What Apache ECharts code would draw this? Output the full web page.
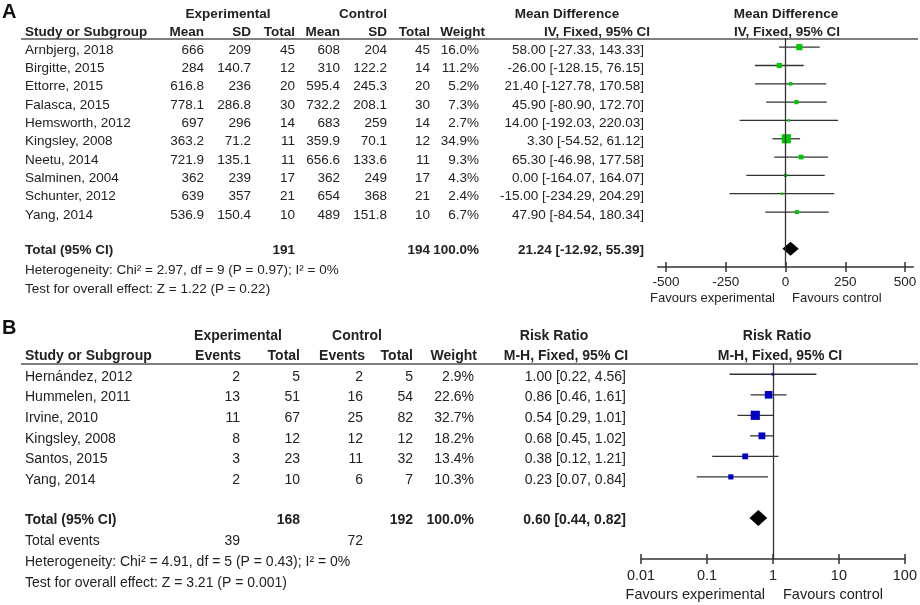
<!DOCTYPE html>
<html>
<head>
<meta charset="utf-8">
<script src="https://cdn.jsdelivr.net/npm/echarts@6/dist/echarts.min.js"></script>
<style>
html,body{margin:0;padding:0;background:#fff;}
#c{width:920px;height:605px;}
</style>
</head>
<body>
<div id="c"></div>
<script>
// ---------- Panel A data ----------
var studiesA = ['Arnbjerg, 2018','Birgitte, 2015','Ettorre, 2015','Falasca, 2015','Hemsworth, 2012','Kingsley, 2008','Neetu, 2014','Salminen, 2004','Schunter, 2012','Yang, 2014'];
var expMeanA = [666, 284, 616.8, 778.1, 697, 363.2, 721.9, 362, 639, 536.9];
var expSdA   = [209, 140.7, 236, 286.8, 296, 71.2, 135.1, 239, 357, 150.4];
var expNA    = [45, 12, 20, 30, 14, 11, 11, 17, 21, 10];
var ctlMeanA = [608, 310, 595.4, 732.2, 683, 359.9, 656.6, 362, 654, 489];
var ctlSdA   = [204, 122.2, 245.3, 208.1, 259, 70.1, 133.6, 249, 368, 151.8];
var ctlNA    = [45, 14, 20, 30, 14, 12, 11, 17, 21, 10];
var weightA  = [16.0, 11.2, 5.2, 7.3, 2.7, 34.9, 9.3, 4.3, 2.4, 6.7];
var mdA      = [58.00, -26.00, 21.40, 45.90, 14.00, 3.30, 65.30, 0.00, -15.00, 47.90];
var loA      = [-27.33, -128.15, -127.78, -80.90, -192.03, -54.52, -46.98, -164.07, -234.29, -84.54];
var hiA      = [143.33, 76.15, 170.58, 172.70, 220.03, 61.12, 177.58, 164.07, 204.29, 180.34];
var totalNA  = [191, 194];
var totalEffA = [21.24, -12.92, 55.39];
var ticksA   = [-500, -250, 0, 250, 500];
var hetA  = 'Heterogeneity: Chi\u00b2 = 2.97, df = 9 (P = 0.97); I\u00b2 = 0%';
var testA = 'Test for overall effect: Z = 1.22 (P = 0.22)';

// ---------- Panel B data ----------
var studiesB = ['Hern\u00e1ndez, 2012','Hummelen, 2011','Irvine, 2010','Kingsley, 2008','Santos, 2015','Yang, 2014'];
var expEvB  = [2, 13, 11, 8, 3, 2];
var expNB   = [5, 51, 67, 12, 23, 10];
var ctlEvB  = [2, 16, 25, 12, 11, 6];
var ctlNB   = [5, 54, 82, 12, 32, 7];
var weightB = [2.9, 22.6, 32.7, 18.2, 13.4, 10.3];
var rrB     = [1.00, 0.86, 0.54, 0.68, 0.38, 0.23];
var loB     = [0.22, 0.46, 0.29, 0.45, 0.12, 0.07];
var hiB     = [4.56, 1.61, 1.01, 1.02, 1.21, 0.84];
var totalNB = [168, 192];
var totalEventsB = [39, 72];
var totalEffB = [0.60, 0.44, 0.82];
var ticksB  = [0.01, 0.1, 1, 10, 100];
var hetB  = 'Heterogeneity: Chi\u00b2 = 4.91, df = 5 (P = 0.43); I\u00b2 = 0%';
var testB = 'Test for overall effect: Z = 3.21 (P = 0.001)';

// ---------- helpers ----------
var FF = '"Liberation Sans", Arial, Helvetica, sans-serif';
var TXT = '#222';
var graphics = [];
function txt(x, y, s, align, bold, size) {
  graphics.push({
    type: 'text', x: x, y: y, silent: true,
    style: { text: s, fontFamily: FF, fontSize: size, fontWeight: bold ? 'bold' : 'normal',
             fill: TXT, align: align, verticalAlign: 'middle' }
  });
}
function hline(x1, x2, y, w, col) {
  graphics.push({ type: 'line', silent: true, shape: { x1: x1, y1: y, x2: x2, y2: y },
    style: { stroke: col, lineWidth: w } });
}
function ci(e, l, h) { return e.toFixed(2) + ' [' + l.toFixed(2) + ', ' + h.toFixed(2) + ']'; }

// ---------- Panel A text ----------
var fA = 13.5;
graphics.push({ type: 'text', x: 2, y: 12, silent: true,
  style: { text: 'A', fontFamily: FF, fontSize: 20, fontWeight: 'bold', fill: '#111', align: 'left', verticalAlign: 'middle' } });
txt(228, 14, 'Experimental', 'center', true, fA);
txt(363, 14, 'Control', 'center', true, fA);
txt(567, 14, 'Mean Difference', 'center', true, fA);
txt(786, 14, 'Mean Difference', 'center', true, fA);
txt(25, 32, 'Study or Subgroup', 'left', true, fA);
txt(204, 32, 'Mean', 'right', true, fA);
txt(251, 32, 'SD', 'right', true, fA);
txt(295, 32, 'Total', 'right', true, fA);
txt(340, 32, 'Mean', 'right', true, fA);
txt(387, 32, 'SD', 'right', true, fA);
txt(430, 32, 'Total', 'right', true, fA);
txt(485, 32, 'Weight', 'right', true, fA);
txt(650, 32, 'IV, Fixed, 95% CI', 'right', true, fA);
txt(787, 32, 'IV, Fixed, 95% CI', 'center', true, fA);
hline(21, 918, 39, 1.5, '#555');
for (var i = 0; i < studiesA.length; i++) {
  var y = 50 + 18.32 * i;
  txt(25, y, studiesA[i], 'left', false, fA);
  txt(204, y, String(expMeanA[i]), 'right', false, fA);
  txt(251, y, String(expSdA[i]), 'right', false, fA);
  txt(295, y, String(expNA[i]), 'right', false, fA);
  txt(340, y, String(ctlMeanA[i]), 'right', false, fA);
  txt(387, y, String(ctlSdA[i]), 'right', false, fA);
  txt(430, y, String(ctlNA[i]), 'right', false, fA);
  txt(479, y, weightA[i].toFixed(1) + '%', 'right', false, fA);
  txt(644, y, ci(mdA[i], loA[i], hiA[i]), 'right', false, fA);
}
txt(25, 250, 'Total (95% CI)', 'left', true, fA);
txt(295, 250, String(totalNA[0]), 'right', true, fA);
txt(430, 250, String(totalNA[1]), 'right', true, fA);
txt(479, 250, '100.0%', 'right', true, fA);
txt(644, 250, ci(totalEffA[0], totalEffA[1], totalEffA[2]), 'right', true, fA);
txt(25, 270, hetA, 'left', false, fA);
txt(25, 289, testA, 'left', false, fA);
txt(775, 298, 'Favours experimental', 'right', false, 13);
txt(792, 298, 'Favours control', 'left', false, 13);

// ---------- Panel B text ----------
var fB = 14;
graphics.push({ type: 'text', x: 2, y: 328, silent: true,
  style: { text: 'B', fontFamily: FF, fontSize: 20, fontWeight: 'bold', fill: '#111', align: 'left', verticalAlign: 'middle' } });
txt(238, 336, 'Experimental', 'center', true, fB);
txt(357, 336, 'Control', 'center', true, fB);
txt(554, 336, 'Risk Ratio', 'center', true, fB);
txt(777, 336, 'Risk Ratio', 'center', true, fB);
txt(25, 356, 'Study or Subgroup', 'left', true, fB);
txt(241, 356, 'Events', 'right', true, fB);
txt(300, 356, 'Total', 'right', true, fB);
txt(365, 356, 'Events', 'right', true, fB);
txt(413, 356, 'Total', 'right', true, fB);
txt(477, 356, 'Weight', 'right', true, fB);
txt(566, 356, 'M-H, Fixed, 95% CI', 'center', true, fB);
txt(780, 356, 'M-H, Fixed, 95% CI', 'center', true, fB);
hline(21, 918, 364, 1.5, '#555');
for (var j = 0; j < studiesB.length; j++) {
  var yb = 377 + 20.63 * j;
  txt(25, yb, studiesB[j], 'left', false, fB);
  txt(240, yb, String(expEvB[j]), 'right', false, fB);
  txt(300, yb, String(expNB[j]), 'right', false, fB);
  txt(363, yb, String(ctlEvB[j]), 'right', false, fB);
  txt(413, yb, String(ctlNB[j]), 'right', false, fB);
  txt(474, yb, weightB[j].toFixed(1) + '%', 'right', false, fB);
  txt(626, yb, ci(rrB[j], loB[j], hiB[j]), 'right', false, fB);
}
txt(25, 520, 'Total (95% CI)', 'left', true, fB);
txt(300, 520, String(totalNB[0]), 'right', true, fB);
txt(413, 520, String(totalNB[1]), 'right', true, fB);
txt(474, 520, '100.0%', 'right', true, fB);
txt(626, 520, ci(totalEffB[0], totalEffB[1], totalEffB[2]), 'right', true, fB);
txt(25, 541, 'Total events', 'left', false, fB);
txt(240, 541, String(totalEventsB[0]), 'right', false, fB);
txt(363, 541, String(totalEventsB[1]), 'right', false, fB);
txt(25, 562, hetB, 'left', false, fB);
txt(25, 583, testB, 'left', false, fB);
txt(765, 595, 'Favours experimental', 'right', false, 14.5);
txt(783, 595, 'Favours control', 'left', false, 14.5);

// ---------- series data ----------
var rowsA = studiesA.map(function (s, i) { return [loA[i], hiA[i], mdA[i], i, weightA[i]]; });
var rowsB = studiesB.map(function (s, i) { return [loB[i], hiB[i], rrB[i], i, weightB[i]]; });
var totRowA = studiesA.length + 1;
var totRowB = studiesB.length + 1;

function forestItem(color, k) {
  return function (params, api) {
    var r = api.value(3);
    var p1 = api.coord([api.value(0), r]);
    var p2 = api.coord([api.value(1), r]);
    var c = api.coord([api.value(2), r]);
    var s = Math.max(2.5, k * Math.sqrt(api.value(4)));
    return { type: 'group', children: [
      { type: 'line', shape: { x1: p1[0], y1: p1[1], x2: p2[0], y2: p2[1] }, style: { stroke: '#333', lineWidth: 1.3 } },
      { type: 'rect', shape: { x: c[0] - s / 2, y: c[1] - s / 2, width: s, height: s }, style: { fill: color } }
    ]};
  };
}
function diamondItem(h) {
  return function (params, api) {
    var r = api.value(3);
    var l = api.coord([api.value(0), r]);
    var hh = api.coord([api.value(1), r]);
    var c = api.coord([api.value(2), r]);
    return { type: 'polygon', shape: { points: [[l[0], c[1]], [c[0], c[1] - h], [hh[0], c[1]], [c[0], c[1] + h]] },
      style: { fill: '#000' } };
  };
}

var axisLineStyle = { color: '#333', width: 1.5 };
var option = {
  animation: false,
  backgroundColor: '#fff',
  grid: [
    { left: 657.6, width: 255.8, top: 38, height: 229 },
    { left: 641, width: 272, top: 364, height: 195 }
  ],
  xAxis: [
    { gridIndex: 0, type: 'value', min: -535, max: 535, position: 'bottom',
      axisLine: { show: true, onZero: false, lineStyle: axisLineStyle },
      axisTick: { show: true, length: 5, customValues: ticksA, lineStyle: axisLineStyle },
      axisLabel: { customValues: ticksA, fontSize: 13.5, fontFamily: FF, color: TXT, margin: 8 },
      splitLine: { show: false } },
    { gridIndex: 0, type: 'value', min: -535, max: 535, position: 'bottom',
      axisLine: { show: false, onZero: false },
      axisTick: { show: true, inside: true, length: 5, customValues: ticksA, lineStyle: axisLineStyle },
      axisLabel: { show: false }, splitLine: { show: false } },
    { gridIndex: 1, type: 'log', logBase: 10, min: 0.01, max: 100, position: 'bottom',
      axisLine: { show: true, onZero: false, lineStyle: axisLineStyle },
      axisTick: { show: true, length: 5, customValues: ticksB, lineStyle: axisLineStyle },
      axisLabel: { customValues: ticksB, fontSize: 14.5, fontFamily: FF, color: TXT, margin: 9,
                   formatter: function (v) { return String(+v.toPrecision(3)); } },
      splitLine: { show: false } },
    { gridIndex: 1, type: 'log', logBase: 10, min: 0.01, max: 100, position: 'bottom',
      axisLine: { show: false, onZero: false },
      axisTick: { show: true, inside: true, length: 5, customValues: ticksB, lineStyle: axisLineStyle },
      axisLabel: { show: false }, splitLine: { show: false } }
  ],
  yAxis: [
    { gridIndex: 0, type: 'value', inverse: true, min: -0.5, max: 12, show: false },
    { gridIndex: 1, type: 'value', inverse: true, min: -0.5, max: 9, show: false }
  ],
  series: [
    { type: 'custom', xAxisIndex: 0, yAxisIndex: 0, renderItem: forestItem('#00c800', 1.55),
      encode: { x: [0, 1, 2], y: 3 }, data: rowsA, silent: true,
      markLine: { silent: true, symbol: 'none', label: { show: false },
        lineStyle: { color: '#333', width: 1.3, type: 'solid' }, data: [{ xAxis: 0 }] } },
    { type: 'custom', xAxisIndex: 0, yAxisIndex: 0, renderItem: diamondItem(7),
      encode: { x: [0, 1, 2], y: 3 }, silent: true,
      data: [[totalEffA[1], totalEffA[2], totalEffA[0], totRowA]] },
    { type: 'custom', xAxisIndex: 2, yAxisIndex: 1, renderItem: forestItem('#0000c8', 1.6),
      encode: { x: [0, 1, 2], y: 3 }, data: rowsB, silent: true,
      markLine: { silent: true, symbol: 'none', label: { show: false },
        lineStyle: { color: '#333', width: 1.3, type: 'solid' }, data: [{ xAxis: 1 }] } },
    { type: 'custom', xAxisIndex: 2, yAxisIndex: 1, renderItem: diamondItem(8),
      encode: { x: [0, 1, 2], y: 3 }, silent: true,
      data: [[totalEffB[1], totalEffB[2], totalEffB[0], totRowB]] }
  ],
  graphic: graphics
};
var chart = echarts.init(document.getElementById('c'), null, { renderer: 'canvas' });
chart.setOption(option);
</script>
</body>
</html>
